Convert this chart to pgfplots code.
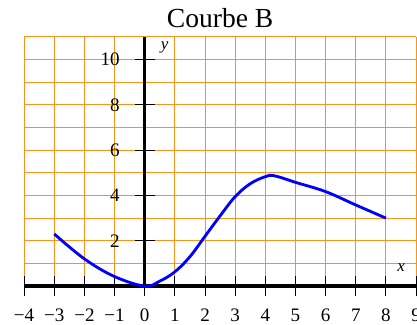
\documentclass[border=0pt]{standalone}
\usepackage{fontspec}
\setmainfont{Liberation Serif}
\usepackage{pgfplots}
\pgfplotsset{compat=1.18}
\definecolor{grille}{RGB}{247,148,30}
\begin{document}
\begin{tikzpicture}
\begin{axis}[
  x=0.75cm, y=0.5634cm,
  axis lines=middle,
  axis line style={-, line width=2.5pt},
  xmin=-4, xmax=9, ymin=0, ymax=11,
  xtick={-4,...,9}, ytick={2,4,...,10},
  xticklabels={−4,−3,−2,−1,0,1,2,3,4,5,6,7,8,9},
  yticklabels={2,4,6,8,10},
  minor ytick={1,3,...,11},
  grid=both,
  major grid style={grille, line width=0.7pt},
  minor grid style={grille, line width=0.7pt},
  major tick length=0.5cm, minor tick length=0pt,
  tick align=center,
  tick style={black, line width=0.7pt},
  hide obscured x ticks=false,
  ticklabel style={font=\fontsize{13.5}{15}\selectfont},
  xticklabel style={yshift=-0.2cm},
  yticklabel style={xshift=-0.25cm},
  clip=false,
]
\addplot[blue, line width=2pt, smooth, tension=0.6] coordinates {
  (-3,2.3) (-2,1.2) (-1,0.42) (0,0) (0.5,0.22) (1,0.63) (1.5,1.3)
  (2,2.2) (2.5,3.1) (3,3.95) (3.5,4.52) (4,4.83) (4.3,4.87) (5,4.58)
  (6,4.17) (7,3.58) (8,3.0)
};
\node[font=\large] at (axis cs:8.5,0.8) {\textit{x}};
\node[font=\large] at (axis cs:0.66,10.55) {\textit{y}};
\node[anchor=base, font=\fontsize{19.5}{21}\selectfont] at (axis cs:2.5,11.43) {Courbe B};
\coordinate (bl) at (axis cs:-4.8,-1.68);
\coordinate (tr) at (axis cs:9.03,12.63);
\end{axis}
\pgfresetboundingbox
\path[use as bounding box] (bl) rectangle (tr);
\end{tikzpicture}
\end{document}
